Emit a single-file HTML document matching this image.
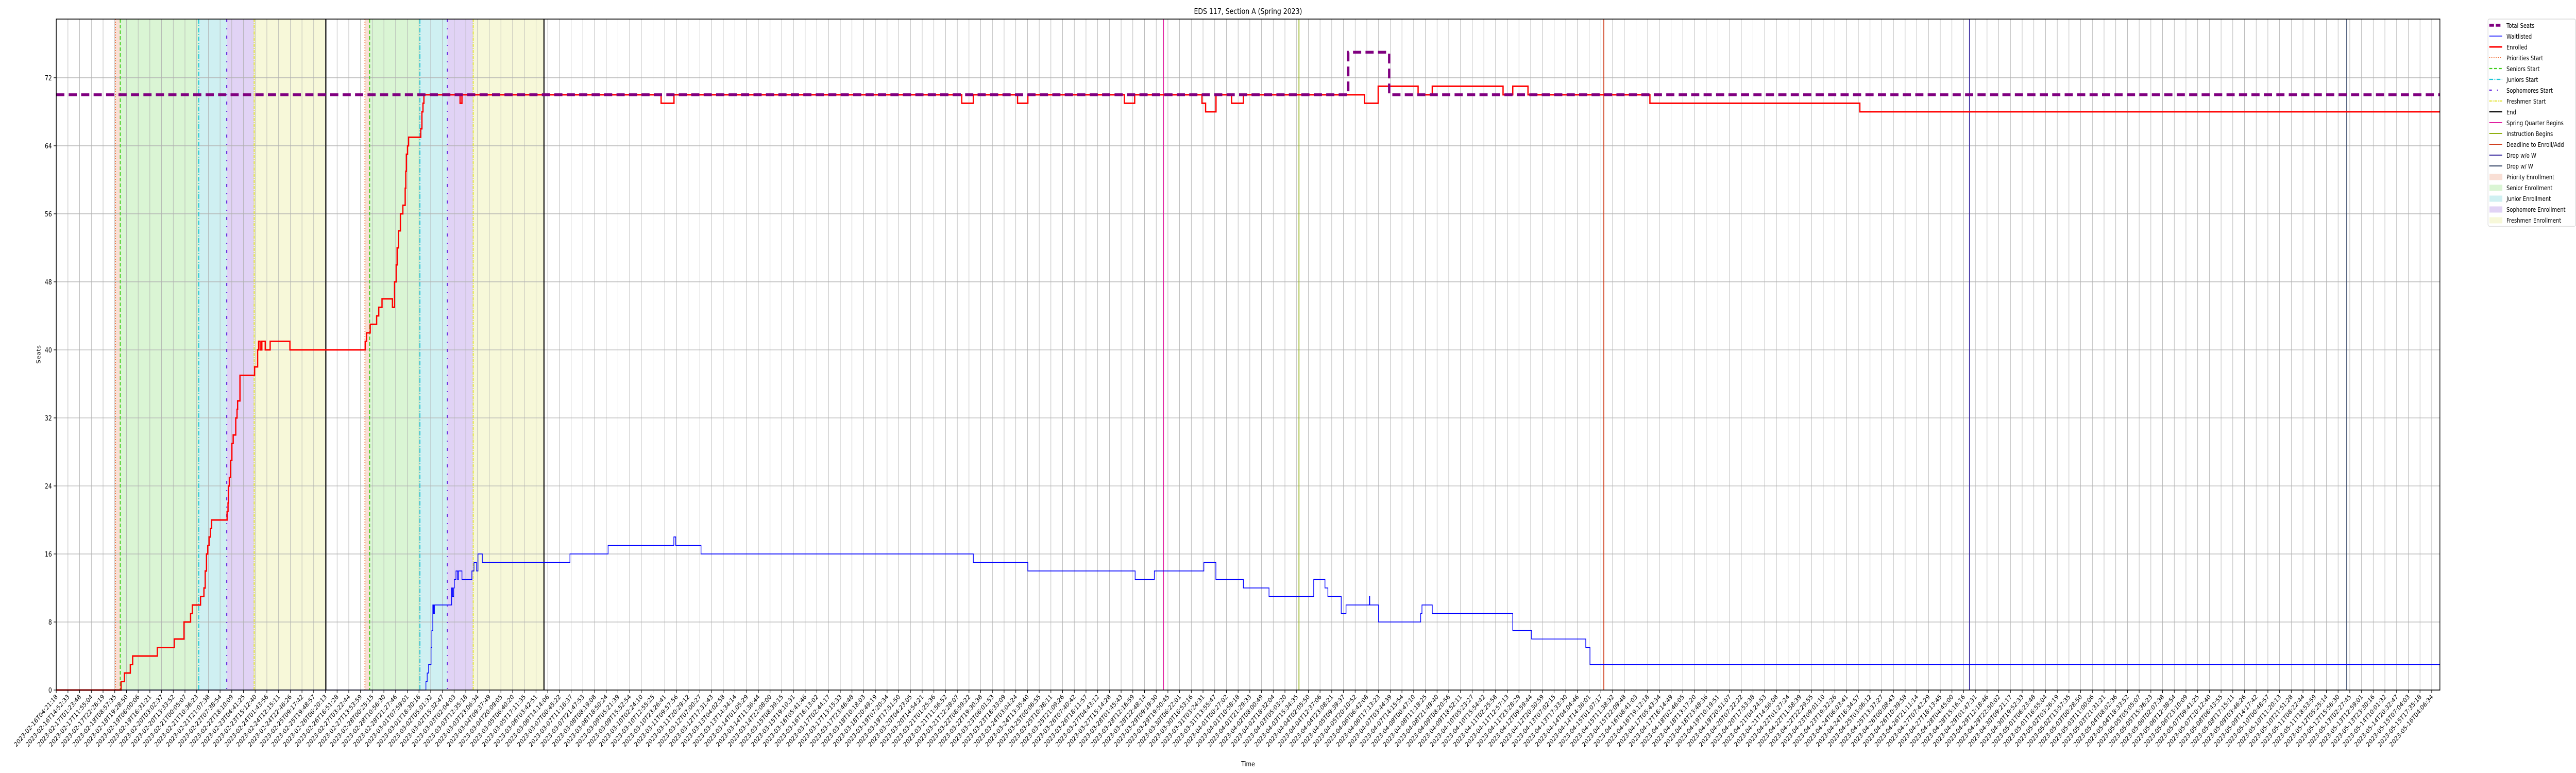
<!DOCTYPE html>
<html><head><meta charset="utf-8">
<style>
html,body{margin:0;padding:0;background:#fff;width:100%;height:100%;overflow:hidden;}
svg{display:block;width:100%;height:100%;font-family:"DejaVu Sans","Liberation Sans",sans-serif;overflow:hidden;}
</style></head>
<body>
<svg id="chart" viewBox="0 0 6000 1500" preserveAspectRatio="none" xmlns="http://www.w3.org/2000/svg">
<rect width="6000" height="1500" fill="#fff"/>
</svg>
<script>
// ---- data ----
const enrolledX = [0,5.54,5.83,6.33,6.53,8.64,10.09,10.92,11.48,11.63,12.33,12.62,12.73,12.84,12.95,13.06,13.17,13.28,14.60,14.68,14.71,14.79,14.90,15.01,15.12,15.34,15.45,15.50,15.70,16.95,17.21,17.29,17.42,17.57,17.86,18.28,19.97,26.40,26.52,26.83,27.38,27.56,27.84,28.73,28.91,29.05,29.13,29.25,29.41,29.62,29.82,29.87,29.92,30.02,30.11,31.15,31.25,31.34,31.42,34.51,34.67,51.69,52.79,77.38,78.37,82.15,83.03,91.28,92.16,97.91,98.22,99.11,100.44,101.45,111.81,112.97,116.38,117.59,123.64,124.47,125.77,136.19,154.13];
const enrolledV = [0,1,2,3,4,5,6,8,9,10,11,12,14,16,17,18,19,20,21,22,24,25,27,29,30,32,33,34,37,38,40,41,40,41,40,41,40,41,42,43,44,45,46,45,48,50,52,54,56,57,59,61,63,64,65,66,68,69,70,69,70,69,70,69,70,69,70,69,70,69,68,70,69,70,69,71,70,71,70,71,70,69,68];
const waitX = [0,31.59,31.70,31.82,32.03,32.10,32.18,32.25,32.32,33.79,33.86,33.96,34.02,34.16,34.30,34.37,34.67,35.52,35.70,35.92,36.04,36.41,43.90,47.16,52.78,52.94,55.10,78.37,83.03,92.20,93.84,98.07,99.10,101.45,103.64,107.46,108.42,108.67,109.81,110.22,112.22,112.25,113.00,116.60,116.71,117.59,124.47,126.08,130.71,131.07];
const waitV = [0,1,2,3,5,7,10,9,10,12,11,12,13,14,13,14,13,14,15,14,16,15,16,17,18,17,16,15,14,13,14,15,13,12,11,13,12,11,9,10,11,10,8,9,10,9,7,6,5,3];
const seatsX = [0,110.41,113.91];
const seatsV = [70,75,70];
const yTicks = [0,8,16,24,32,40,48,56,64,72];
const phaseStarts = [5.06,5.47,12.18,14.57,16.91,23.04,26.38,26.78,31.08,33.42,35.63,41.68];
const eventX = [94.62,106.20,132.25,163.50,195.74];
const eventNames = ['Spring Quarter Begins','Instruction Begins','Deadline to Enroll/Add','Drop w/o W','Drop w/ W'];
const tickStart = '2023-02-16T04:21:18';
const tickEnd = '2023-05-16T04:06:34';
const tickCount = 204;

// ---- scales ----
const L=131,R=5683,T=37,B=1339;
const XMAX=203.7, YMAX=78.9;
const xs=u=>L+(R-L)*u/XMAX;
const ys=v=>B-(B-T)*v/YMAX;
const NS='http://www.w3.org/2000/svg';
const svg=document.getElementById('chart');
function mk(tag,attrs,parent){const e=document.createElementNS(NS,tag);for(const k in attrs)e.setAttribute(k,attrs[k]);(parent||svg).appendChild(e);return e;}

// shading
const shadeCols=['#f9dfd5','#daf5d4','#cff0f2','#e1d3f5','#f7f8d9'];
const shadeNames=['priority-enrollment','senior-enrollment','junior-enrollment','sophomore-enrollment','freshmen-enrollment'];
for(let c=0;c<2;c++){
  for(let i=0;i<5;i++){
    const a=phaseStarts[c*6+i],b=phaseStarts[c*6+i+1];
    const r=mk('rect',{x:xs(a),y:T,width:xs(b)-xs(a),height:B-T,fill:shadeCols[i]});
    
    
  }
}
// grid
for(let i=0;i<tickCount;i++){
  const g=mk('line',{x1:xs(i),x2:xs(i),y1:T,y2:B,stroke:'#b0b0b0','stroke-width':1});
  
  
}
yTicks.forEach(v=>{
  const g=mk('line',{x1:L,x2:R,y1:ys(v),y2:ys(v),stroke:'#b0b0b0','stroke-width':1.2});
  
  
});
// phase lines
const phaseStyle=[
 {c:'#f06a30',d:'2 3',w:2,n:'priorities-start'},
 {c:'#3fcf1a',d:'7 4',w:2.2,n:'seniors-start'},
 {c:'#1cc6d6',d:'9 3 2 3',w:2.2,n:'juniors-start'},
 {c:'#6a2de0',d:'6 12 2 12',w:2.5,n:'sophomores-start'},
 {c:'#e0e020',d:'6 2 2 2',w:2,n:'freshmen-start'},
 {c:'#000',d:'',w:2.5,n:'end'}];
for(let c=0;c<2;c++)for(let i=0;i<6;i++){
  const s=phaseStyle[i];const x=xs(phaseStarts[c*6+i]);
  const l=mk('line',{x1:x,x2:x,y1:T,y2:B,stroke:s.c,'stroke-width':s.w});
  if(s.d)l.setAttribute('stroke-dasharray',s.d);
  
  
}
const eventCols=['#e020a0','#90b010','#d04020','#3a2ca0','#334466'];
eventX.forEach((u,i)=>{
  const l=mk('line',{x1:xs(u),x2:xs(u),y1:T,y2:B,stroke:eventCols[i],'stroke-width':2});
  
  
});
// step paths
function stepPath(X,V){let d='M'+xs(X[0])+' '+ys(V[0]);for(let i=1;i<X.length;i++){d+=' H'+xs(X[i])+' V'+ys(V[i]);}d+=' H'+R;return d;}
const wl=mk('path',{d:stepPath(waitX,waitV),fill:'none',stroke:'#0000ff','stroke-width':1.6});


const en=mk('path',{d:stepPath(enrolledX,enrolledV),fill:'none',stroke:'#ff0000','stroke-width':3});


const ts=mk('path',{d:stepPath(seatsX,seatsV),fill:'none',stroke:'#800080','stroke-width':5.5,'stroke-dasharray':'19 10'});



// axes frame
const fr=mk('rect',{x:L,y:T,width:R-L,height:B-T,fill:'none',stroke:'#000','stroke-width':1.6});


// y ticks
yTicks.forEach(v=>{
  const tk=mk('line',{x1:L-6,x2:L,y1:ys(v),y2:ys(v),stroke:'#000','stroke-width':1.2});
  
  
  const t=mk('text',{x:L-10,y:ys(v)+5,'text-anchor':'end','font-size':13,fill:'#000'});
  t.textContent=v;
  
  
});
// x tick labels
const t0=Date.parse(tickStart+'Z'),t1=Date.parse(tickEnd+'Z');
const xTickLabels=[];
for(let i=0;i<tickCount;i++){xTickLabels.push(new Date(t0+(t1-t0)*i/(tickCount-1)).toISOString().slice(0,19));}
xTickLabels[0]=tickStart;xTickLabels[tickCount-1]=tickEnd;
xTickLabels.forEach((lab,i)=>{
  const x=xs(i);
  const tk=mk('line',{x1:x,x2:x,y1:B,y2:B+6,stroke:'#000','stroke-width':1.2});
  
  
  const tx=x+4,ty=B+14;
  const t=mk('text',{x:tx,y:ty,'text-anchor':'end','font-size':12.6,fill:'#000',transform:`rotate(-45 ${tx} ${ty})`});
  t.textContent=lab;
  
  
});
// titles
let t=mk('text',{x:(L+R)/2,y:27,'text-anchor':'middle','font-size':15,fill:'#000'});
t.textContent='EDS 117, Section A (Spring 2023)';


t=mk('text',{x:(L+R)/2,y:1487,'text-anchor':'middle','font-size':13,fill:'#000'});
t.textContent='Time';


t=mk('text',{x:94,y:(T+B)/2,'text-anchor':'middle','font-size':13,fill:'#000',transform:`rotate(-90 94 ${(T+B)/2})`});
t.textContent='Seats';



// legend
const lg=mk('g',{});


mk('rect',{x:5795,y:37,width:204,height:402,rx:3,fill:'#fff',stroke:'#d0d0d0','stroke-width':1.2},lg);
const legendEntries=[
 ['Total Seats','line','#800080',5.5,'11 4'],
 ['Waitlisted','line','#0000ff',1.6,''],
 ['Enrolled','line','#ff0000',3,''],
 ['Priorities Start','line','#f06a30',2,'2 3'],
 ['Seniors Start','line','#3fcf1a',2.2,'7 4'],
 ['Juniors Start','line','#1cc6d6',2.2,'9 3 2 3'],
 ['Sophomores Start','line','#6a2de0',2.5,'6 12 2 12'],
 ['Freshmen Start','line','#e0e020',2,'6 2 2 2'],
 ['End','line','#000',2.2,''],
 ['Spring Quarter Begins','line','#e020a0',2,''],
 ['Instruction Begins','line','#90b010',2,''],
 ['Deadline to Enroll/Add','line','#d04020',2,''],
 ['Drop w/o W','line','#3a2ca0',2,''],
 ['Drop w/ W','line','#334466',2,''],
 ['Priority Enrollment','box','#f9dfd5'],
 ['Senior Enrollment','box','#daf5d4'],
 ['Junior Enrollment','box','#cff0f2'],
 ['Sophomore Enrollment','box','#e1d3f5'],
 ['Freshmen Enrollment','box','#f7f8d9']];
legendEntries.forEach((e,i)=>{
  const y=49+i*21.0;
  const g=mk('g',{},lg);
  
  
  if(e[1]==='line'){
    const l=mk('line',{x1:5798,x2:5828,y1:y,y2:y,stroke:e[2],'stroke-width':e[3]},g);
    if(e[4])l.setAttribute('stroke-dasharray',e[4]);
  }else{
    mk('rect',{x:5799,y:y-5,width:29,height:11,fill:e[2],stroke:e[2]},g);
  }
  const tx=mk('text',{x:5838,y:y+5,'font-size':12,fill:'#000'},g);
  tx.textContent=e[0];
});
</script>
</body></html>
